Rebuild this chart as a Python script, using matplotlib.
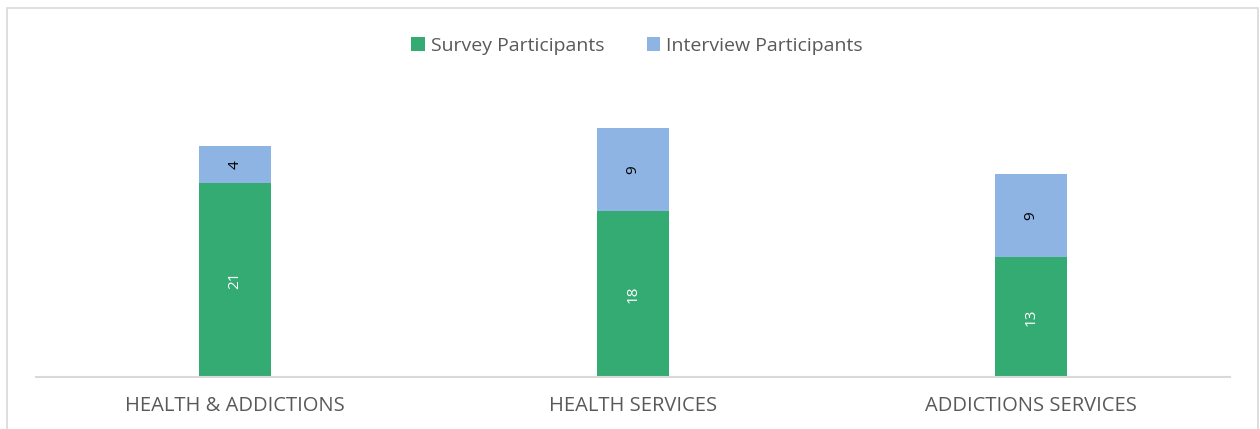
import matplotlib.pyplot as plt
from matplotlib.patches import Rectangle

# data
categories = ['HEALTH & ADDICTIONS', 'HEALTH SERVICES', 'ADDICTIONS SERVICES']
survey = [21, 18, 13]
interview = [4, 9, 9]

green = '#34ab73'
blue = '#8eb4e3'
grey = '#595959'

plt.rcParams['font.family'] = ['Open Sans', 'DejaVu Sans']

W, H = 1260, 429
fig = plt.figure(figsize=(W / 100, H / 100), dpi=100)

# outer chart border
fig.add_artist(Rectangle((7 / W, -0.05), (1258 - 7) / W, 1.05 - 8 / H,
                         transform=fig.transFigure, fill=False,
                         edgecolor='#d9d9d9', linewidth=1.2))

ax = fig.add_axes([36 / W, (H - 377) / H, (1230 - 36) / W, (377 - 100) / H])

x = range(len(categories))
b1 = ax.bar(x, survey, width=0.18, color=green, label='Survey Participants')
b2 = ax.bar(x, interview, width=0.18, bottom=survey, color=blue,
            label='Interview Participants')

ax.bar_label(b1, label_type='center', rotation=90, color='white', fontsize=11)
ax.bar_label(b2, label_type='center', rotation=90, color='black', fontsize=11)

ax.set_xlim(-0.5, 2.5)
ax.set_ylim(0, 30)
ax.set_yticks([])
ax.set_xticks(list(x))
ax.set_xticklabels(categories, fontsize=14.5, color=grey)
ax.tick_params(axis='x', length=0, pad=14)
for s in ['top', 'right', 'left']:
    ax.spines[s].set_visible(False)
ax.spines['bottom'].set_color('#d9d9d9')
ax.spines['bottom'].set_linewidth(1.5)

fig.legend(loc='center', bbox_to_anchor=(637 / W, 1 - 46 / H), ncol=2,
           frameon=False, fontsize=14, labelcolor=grey, handlelength=0.7,
           handleheight=0.7, handletextpad=0.3, columnspacing=2.2)

fig.savefig('out.png', dpi=100)
